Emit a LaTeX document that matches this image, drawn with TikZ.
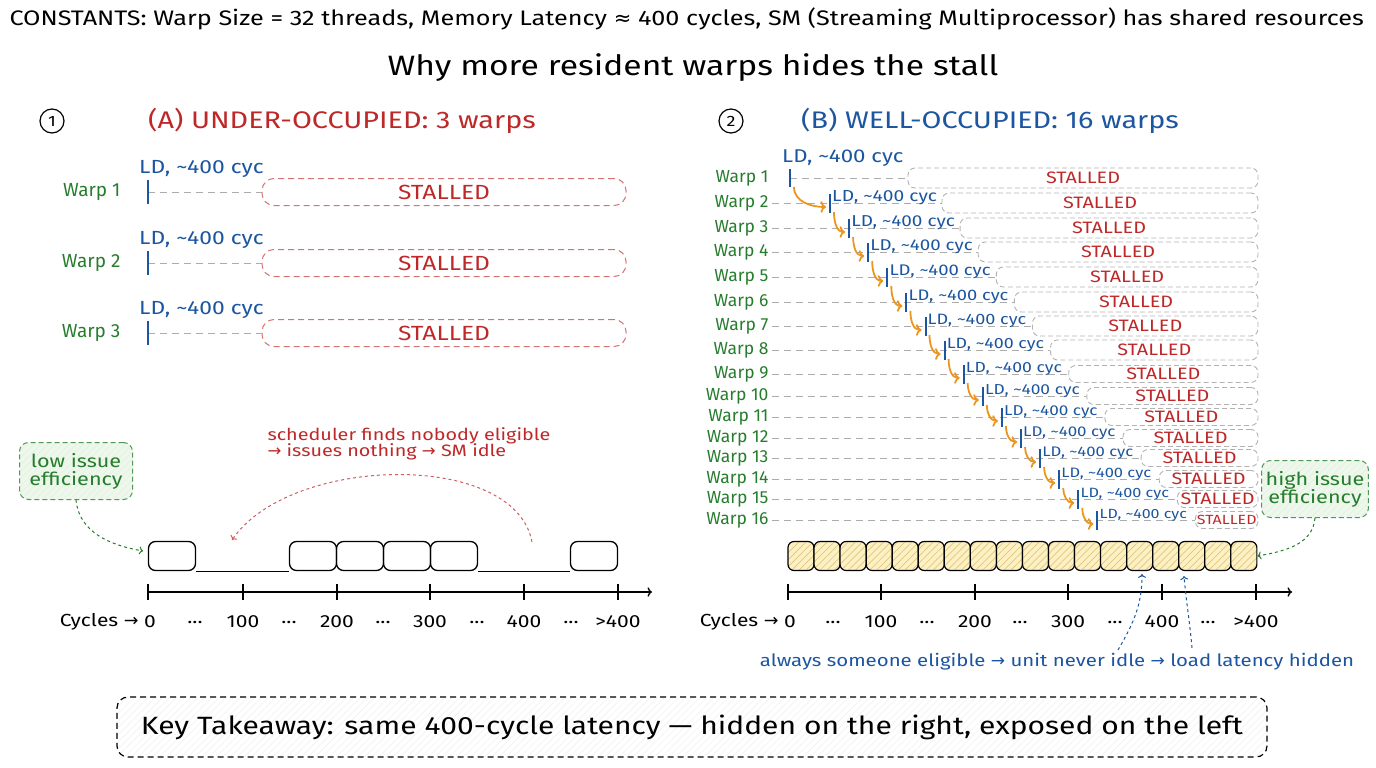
\documentclass[tikz,border=0pt]{standalone}
\usepackage{fontspec}
\usepackage{graphicx}
\setmainfont{Fira Sans}[FakeStretch=1.2]
\newfontfamily\warpfont{Fira Sans}
\newfontfamily\symfont{DejaVu Sans}
\usetikzlibrary{patterns.meta}
\usetikzlibrary{arrows.meta}

\definecolor{warpgreen}{RGB}{38,125,45}
\definecolor{stallred}{RGB}{190,40,40}
\definecolor{ldblue}{RGB}{28,85,160}
\definecolor{hoporange}{RGB}{236,150,30}
\definecolor{slotfill}{RGB}{252,240,196}
\definecolor{slothatch}{RGB}{225,200,120}
\definecolor{notefill}{RGB}{225,242,222}

\newcommand{\fsz}[1]{\fontsize{#1}{#1}\selectfont}
\newcommand{\ra}{{\symfont →}}
\newcommand{\apx}{{\symfont ≈}}
\newcommand{\cyc}{LD, \textasciitilde400 cyc}
\newcommand{\gap}{...}

\begin{document}
\begin{tikzpicture}[x=1pt,y=-1pt,
  warplab/.style={text=warpgreen,anchor=east,font=\warpfont\fsz{19}},
  ldlab/.style={text=ldblue,font=\fsz{19},inner sep=1pt},
  ldtick/.style={draw=ldblue,line width=2},
  waitline/.style={draw=gray!65,line width=1,dash pattern=on 7pt off 5pt},
  stallL/.style={draw=stallred!65,line width=1,dash pattern=on 6pt off 4pt,rounded corners=12pt,
    minimum width=364pt,minimum height=27pt,text=stallred,font=\fsz{20.5}},
  stallR/.style={draw=gray!60,line width=0.9,dash pattern=on 5pt off 3pt,rounded corners=7pt,
    text=stallred,font=\fsz{16.5},inner sep=0pt},
  slotL/.style={draw=black,line width=1.3,rounded corners=7pt,minimum width=47pt,minimum height=29pt},
  slotR/.style={draw=black,line width=1.2,rounded corners=6pt,minimum width=26pt,minimum height=29pt,
    preaction={fill=slotfill},pattern={Lines[angle=45,distance=5pt,line width=0.7pt]},pattern color=slothatch},
  note/.style={draw=warpgreen!80,line width=1,dash pattern=on 5pt off 3pt,rounded corners=9pt,
    text=warpgreen,font=\fsz{18},align=center,inner sep=4pt,minimum height=57pt,
    preaction={fill=notefill!60},pattern={Lines[angle=45,distance=5pt,line width=0.5pt]},pattern color=notefill},
  hop/.style={draw=hoporange,line width=1.8,->},
  axis/.style={draw=black,line width=1.3,->},
  cyc/.style={font=\fsz{17.5}},
  numcirc/.style={draw,circle,line width=1.2,minimum size=24pt,inner sep=0pt,font=\fsz{15}}]
\useasboundingbox (0,0) rectangle (1376,768);

% header
\node[anchor=west,font=\fsz{21}] (consts) at (6,19)
  {CONSTANTS: Warp Size = 32 threads, Memory Latency \apx{} 400 cycles, SM (Streaming Multiprocessor) has shared resources};
\node[font=\fsz{28}] (title) at (693,68) {Why more resident warps hides the stall};

% ---------- (A) under-occupied ----------
\node[numcirc] (n1) at (52,121) {1};
\node[text=stallred,font=\fsz{24}] (titleA) at (342,121) {(A) UNDER-OCCUPIED: 3 warps};

\foreach \i/\y in {1/192,2/263,3/333} {
  \node[warplab] (lw\i) at (124,\y) {Warp \i};
  \coordinate (lt\i) at (148,\y);
  \node[stallL] (ls\i) at (444,\y) {STALLED};
  \draw[waitline] (lt\i) -- (ls\i.west);
  \draw[ldtick] (148,\y-12) -- (148,\y+12);
  \node[ldlab,anchor=south west] (lld\i) at (138,\y-13) {\cyc};
}

% issue slots
\foreach \n/\x in {1/172,2/313,3/360,4/407,5/454,6/594}
  \node[slotL] (sa\n) at (\x,556) {};
\draw[line width=1.3] (sa1.south east) -- (sa2.south west);
\draw[line width=1.3] (sa5.south east) -- (sa6.south west);

\draw[axis] (148,592) -- (652,592);
\foreach \x in {148,243,337,430,524,618}
  \draw[line width=1.2] (\x,584) -- (\x,600);
\node[cyc,anchor=east] (cycA) at (142,622) {Cycles \ra};
\foreach \x/\t in {150/0,195/\gap,243/100,289/\gap,337/200,383/\gap,430/300,477/\gap,524/400,571/\gap,618/>400}
  \node[cyc] at (\x,622) {\t};

\node[note,minimum width=113pt] (lowbox) at (76,471) {low issue\\efficiency};
\draw[draw=warpgreen,line width=1,dashed,->] (lowbox.south) to[out=-85,in=170] (143,551);

\node[text=stallred,font=\fsz{16.5},align=left,anchor=north west] (sched) at (264,424)
  {scheduler finds nobody eligible\\\ra{} issues nothing \ra{} SM idle};
\coordinate (idlesrc) at (532,542);
\coordinate (idledst) at (232,540);
\draw[draw=stallred!75,line width=1,dashed,->] (idlesrc) .. controls (515,450) and (290,455) .. (idledst);

% ---------- (B) well-occupied ----------
\node[numcirc] (n2) at (731,121) {2};
\node[text=ldblue,font=\fsz{24}] (titleB) at (990,121) {(B) WELL-OCCUPIED: 16 warps};

\node[ldlab,font=\fsz{18.5},anchor=south west] (rld1) at (781,168) {\cyc};
\foreach \k/\y in {1/178,2/203,3/228,4/252,5/277,6/302,7/326,8/350,9/374,10/396,11/417,12/438,13/458,14/479,15/499,16/520} {
  \pgfmathsetmacro\tx{\k==1 ? 790 : 830+(\k-2)*19.1}
  \pgfmathsetmacro\bx{\k==1 ? 908 : \tx+112-(\k-2)}
  \pgfmathsetmacro\bw{1258-\bx}
  \pgfmathsetmacro\bh{\k<9 ? 20 : 17}
  \pgfmathsetmacro\sc{min(1,(\bw-3)/74)}
  \pgfmathsetmacro\lsc{1-(\k-2)*0.012}
  \node[warplab,font=\warpfont\fsz{17.5}] (rw\k) at (772,\y) {Warp \k};
  \coordinate (rt\k) at (\tx,\y);
  \coordinate (rtb\k) at (\tx+4,\y+9);
  \coordinate (rtm\k) at (\tx-4,\y+4);
  \node[stallR,minimum width=\bw pt,minimum height=\bh pt] (rs\k) at ({\bx+\bw/2},\y) {\scalebox{\sc}{STALLED}};
  \ifnum\k=1
    \draw[waitline] (rt\k) -- (rs\k.west);
    \draw[ldtick] (\tx,\y-9) -- (\tx,\y+9);
  \else
    \draw[waitline] (rw\k.east) -- (rs\k.west);
    \draw[ldtick] (\tx,\y-9) -- (\tx,\y+10);
    \node[ldlab,font=\fsz{16},anchor=west] (rld\k) at (\tx+1,\y-5) {\scalebox{\lsc}{\cyc}};
  \fi
}
\foreach \j [evaluate=\j as \k using int(\j+1)] in {1,...,15}
  \draw[hop] (rtb\j) to[out=-90,in=180] (rtm\k);

% issue slots, always busy
\foreach \n in {1,...,18}
  \node[slotR] (sb\n) at ({788+13+(\n-1)*26.05},556) {};

\draw[axis] (788,592) -- (1292,592);
\foreach \x in {788,881,975,1068,1162,1256}
  \draw[line width=1.2] (\x,584) -- (\x,600);
\node[cyc,anchor=east] (cycB) at (782,622) {Cycles \ra};
\foreach \x/\t in {790/0,833/\gap,881/100,927/\gap,975/200,1020/\gap,1068/300,1115/\gap,1162/400,1208/\gap,1256/>400}
  \node[cyc] at (\x,622) {\t};

\node[note,minimum width=101pt] (highbox) at (1315,489) {high issue\\efficiency};
\draw[draw=warpgreen,line width=1,dashed,->] (highbox.south) to[out=-95,in=10] (sb18.east);

\node[text=ldblue,font=\fsz{17}] (hidden) at (1057,662)
  {always someone eligible \ra{} unit never idle \ra{} load latency hidden};
\coordinate (hid1) at (1142,574);
\coordinate (hid2) at (1184,576);
\draw[draw=ldblue,line width=1,dashed,->] (1118,650) to[out=60,in=-90] (hid1);
\draw[draw=ldblue,line width=1,dashed,->] (1192,648) to[out=95,in=-85] (hid2);

% takeaway
\node[draw=black,line width=1.2,dash pattern=on 6pt off 4pt,rounded corners=11pt,
  minimum width=1150pt,minimum height=60pt,font=\fsz{25},
  preaction={fill=white},pattern={Lines[angle=45,distance=5pt,line width=0.5pt]},pattern color=gray!12]
  (takeaway) at (692,727) {Key Takeaway: same 400-cycle latency — hidden on the right, exposed on the left};
\end{tikzpicture}
\end{document}
